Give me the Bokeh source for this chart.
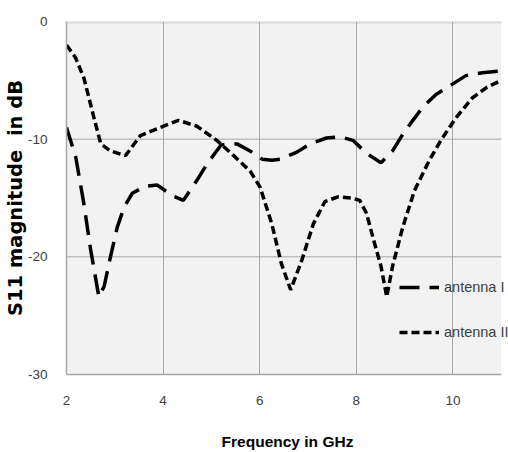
from bokeh.plotting import figure
from bokeh.models import Range1d, FixedTicker, Legend, LegendItem, BoxAnnotation
from bokeh.embed import file_html
from bokeh.resources import INLINE

# ---- data ----
freq_ant1 = [2.0, 2.19, 2.36, 2.50, 2.67, 2.78, 2.91, 3.05, 3.19, 3.36, 3.63, 3.88,
             4.19, 4.42, 4.70, 4.91, 5.20, 5.53, 5.80, 6.05, 6.25, 6.42, 6.77, 7.04,
             7.38, 7.66, 7.93, 8.21, 8.51, 8.75, 8.96, 9.17, 9.37, 9.65, 9.92, 10.27,
             10.61, 11.0]
s11_ant1 = [-9.0, -11.5, -15.5, -19.4, -23.4, -22.5, -20.0, -17.5, -15.8, -14.6, -14.0, -13.9,
            -14.8, -15.2, -13.5, -12.1, -10.5, -10.4, -11.0, -11.7, -11.8, -11.7, -11.1, -10.4,
            -9.9, -9.8, -10.1, -11.2, -12.0, -11.0, -9.6, -8.4, -7.3, -6.2, -5.5, -4.6,
            -4.35, -4.2]

freq_ant2 = [2.0, 2.19, 2.36, 2.57, 2.71, 2.91, 3.22, 3.53, 3.94, 4.32, 4.70, 5.11,
             5.46, 5.80, 6.01, 6.25, 6.45, 6.64, 6.87, 7.11, 7.35, 7.62, 7.90, 8.07,
             8.21, 8.34, 8.51, 8.63, 8.75, 8.96, 9.20, 9.51, 9.75, 10.06, 10.40, 10.70,
             11.0]
s11_ant2 = [-2.0, -3.1, -4.8, -8.2, -10.4, -11.0, -11.4, -9.7, -9.0, -8.4, -8.9, -10.1,
            -11.4, -12.7, -14.1, -17.2, -20.6, -22.8, -20.3, -17.2, -15.3, -14.9, -15.0, -15.2,
            -16.3, -18.3, -20.8, -23.4, -20.8, -17.5, -14.4, -11.8, -10.1, -8.2, -6.5, -5.6,
            -5.0]

series_names = ["antenna I", "antenna II"]
x_min, x_max = 2, 11
y_min, y_max = -30, 0
x_ticks = [2, 4, 6, 8, 10]
x_tick_labels = ["2", "4", "6", "8", "10"]
y_ticks = [0, -10, -20, -30]
y_tick_labels = ["0", "-10", "-20", "-30"]
x_title = "Frequency in GHz"
y_title = "S11 magnitude \u00a0in dB"

FONT = "Liberation Sans"
TXT = "#404040"

# frame runs a little past 11 GHz so that the legend text is not cut off;
# the grey plot area itself stops at 11 GHz
p = figure(width=508, height=452,
           x_range=Range1d(x_min, x_max + 0.15), y_range=Range1d(y_min, y_max),
           output_backend="svg", toolbar_location=None,
           min_border_left=66, min_border_right=0,
           min_border_top=21, min_border_bottom=77,
           background_fill_color="white", border_fill_color="white",
           outline_line_color=None)

p.add_layout(BoxAnnotation(left=x_min, right=x_max, bottom=y_min, top=y_max,
                           fill_color="#f2f2f2", fill_alpha=1, line_color=None,
                           level="image"))

# grid: vertical via grid, horizontal via segments limited to the plot area
p.xgrid.ticker = FixedTicker(ticks=x_ticks[1:])
p.xgrid.grid_line_color = "#a6a6a6"
p.ygrid.grid_line_color = None
hy = y_ticks[1:-1]
p.segment(x0=[x_min] * len(hy), x1=[x_max] * len(hy), y0=hy, y1=hy,
          line_color="#a6a6a6", line_width=1, level="underlay")
# light top band
p.segment(x0=[x_min], x1=[x_max], y0=[y_max], y1=[y_max],
          line_color="#d9d9d9", line_width=4, level="underlay")

r1 = p.line(freq_ant1, s11_ant1, line_color="black", line_width=3.5, line_dash="20 10")
r2 = p.line(freq_ant2, s11_ant2, line_color="black", line_width=3.5, line_dash="8 4")

# axes
xa = p.xaxis[0]
ya = p.yaxis[0]
xa.ticker = FixedTicker(ticks=x_ticks)
ya.ticker = FixedTicker(ticks=y_ticks)
xa.bounds = (x_min, x_max)
xa.major_label_overrides = {t: l for t, l in zip(x_ticks, x_tick_labels)}
ya.major_label_overrides = {t: l for t, l in zip(y_ticks, y_tick_labels)}
for ax in (xa, ya):
    ax.axis_line_color = "#a6a6a6"
    ax.axis_line_width = 1.5
    ax.major_tick_line_color = None
    ax.minor_tick_line_color = None
    ax.major_label_text_font = FONT
    ax.major_label_text_font_size = "13.5px"
    ax.major_label_text_color = TXT
xa.major_label_standoff = 15
ya.major_label_standoff = 13

xa.axis_label = x_title
xa.axis_label_text_font = FONT
xa.axis_label_text_font_style = "bold"
xa.axis_label_text_font_size = "15.5px"
xa.axis_label_text_color = "black"
xa.axis_label_standoff = 25

ya.axis_label = y_title
ya.axis_label_text_font = "DejaVu Sans"
ya.axis_label_text_font_style = "bold"
ya.axis_label_text_font_size = "19.5px"
ya.axis_label_text_color = "black"
ya.axis_label_standoff = -2

legend = Legend(items=[LegendItem(label=series_names[0], renderers=[r1]),
                       LegendItem(label=series_names[1], renderers=[r2])],
                location=(333, 32), padding=0, margin=0, spacing=25,
                glyph_width=40, glyph_height=20, label_standoff=5,
                border_line_color=None, background_fill_alpha=0,
                label_text_font=FONT, label_text_font_size="14.5px",
                label_text_color=TXT)
p.add_layout(legend)

open("out.html", "w").write(file_html(p, INLINE))
